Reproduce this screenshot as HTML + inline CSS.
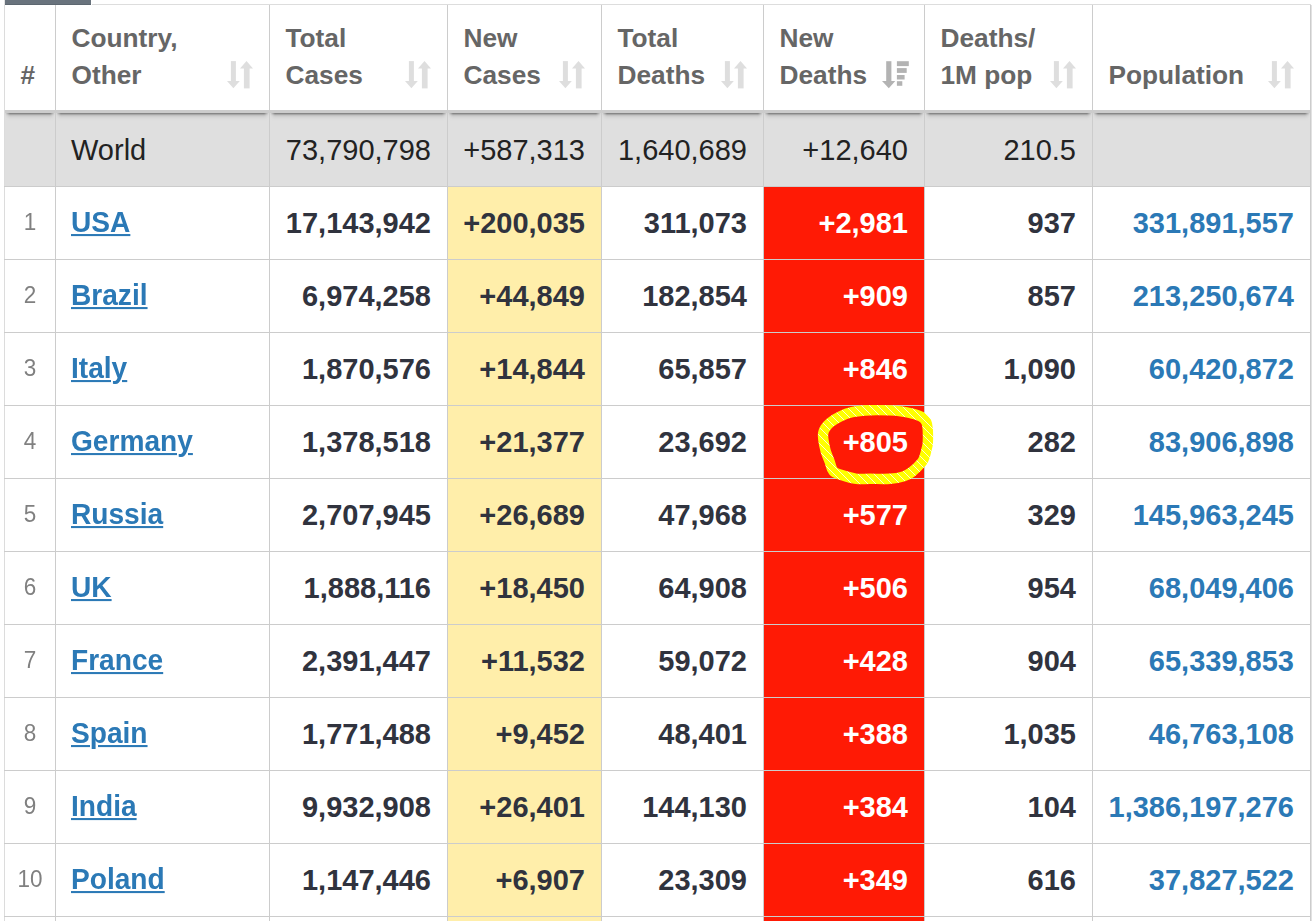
<!DOCTYPE html><html><head><meta charset="utf-8"><title>COVID-19 table</title><style>
*{margin:0;padding:0;box-sizing:border-box}
html,body{width:1315px;height:921px;overflow:hidden;background:#fff}
body{position:relative;font-family:"Liberation Sans",Arial,Helvetica,sans-serif}
.a{position:absolute}
.vl{position:absolute;width:1px;background:#cccccc}
.hl{position:absolute;height:1px;background:#cccccc}
.t{position:absolute;white-space:nowrap;line-height:1}
.r{text-align:right}
.c{text-align:center}
.b{font-weight:bold;color:#30333e;font-size:29px}
.lk{font-size:28.125px}
.w{font-weight:normal;color:#222;font-size:29px}
.rk{color:#808080;font-size:22.5px;transform:scaleY(1.07);transform-origin:50% 85%}
.h{font-weight:bold;color:#666;font-size:26.25px;line-height:37px}
.lnk{color:#2b79b6;text-decoration:underline;text-decoration-thickness:2px;text-underline-offset:2px}
.pop{color:#2b79b6}
.wh{color:#fff}
</style></head><body>
<div class="a" style="left:5px;top:0;width:86px;height:5px;background:#69737d"></div>
<div class="a" style="left:5px;top:4px;width:86px;height:1px;background:#5d6770"></div>
<div class="a" style="left:4px;top:0;width:1px;height:5px;background:#e4e4e4"></div>
<div class="a" style="left:92px;top:4px;width:1219px;height:1px;background:#dddddd"></div>
<div class="a" style="left:4px;top:110px;width:1307px;height:3px;background:#cccccc"></div>
<div class="a" style="left:4px;top:113px;width:1307px;height:73px;background:#dfdfdf"></div>
<div class="a" style="left:447px;top:186px;width:154px;height:735px;background:#ffeeaa"></div>
<div class="a" style="left:763px;top:186px;width:161px;height:735px;background:#ff1a05"></div>
<div class="a" style="left:5px;top:113px;width:50px;height:8px;background:linear-gradient(to bottom,rgba(0,0,0,.40) 0,rgba(0,0,0,.40) 0.8px,rgba(0,0,0,.25) 1.5px,rgba(0,0,0,.16) 2px,rgba(0,0,0,.09) 3px,rgba(0,0,0,.05) 4px,rgba(0,0,0,.027) 5px,rgba(0,0,0,.013) 6px,rgba(0,0,0,0) 8px);-webkit-mask-image:linear-gradient(to right,transparent 0,#000 5px,#000 calc(100% - 5px),transparent 100%)"></div>
<div class="a" style="left:56px;top:113px;width:213px;height:8px;background:linear-gradient(to bottom,rgba(0,0,0,.40) 0,rgba(0,0,0,.40) 0.8px,rgba(0,0,0,.25) 1.5px,rgba(0,0,0,.16) 2px,rgba(0,0,0,.09) 3px,rgba(0,0,0,.05) 4px,rgba(0,0,0,.027) 5px,rgba(0,0,0,.013) 6px,rgba(0,0,0,0) 8px);-webkit-mask-image:linear-gradient(to right,transparent 0,#000 5px,#000 calc(100% - 5px),transparent 100%)"></div>
<div class="a" style="left:270px;top:113px;width:177px;height:8px;background:linear-gradient(to bottom,rgba(0,0,0,.40) 0,rgba(0,0,0,.40) 0.8px,rgba(0,0,0,.25) 1.5px,rgba(0,0,0,.16) 2px,rgba(0,0,0,.09) 3px,rgba(0,0,0,.05) 4px,rgba(0,0,0,.027) 5px,rgba(0,0,0,.013) 6px,rgba(0,0,0,0) 8px);-webkit-mask-image:linear-gradient(to right,transparent 0,#000 5px,#000 calc(100% - 5px),transparent 100%)"></div>
<div class="a" style="left:448px;top:113px;width:153px;height:8px;background:linear-gradient(to bottom,rgba(0,0,0,.40) 0,rgba(0,0,0,.40) 0.8px,rgba(0,0,0,.25) 1.5px,rgba(0,0,0,.16) 2px,rgba(0,0,0,.09) 3px,rgba(0,0,0,.05) 4px,rgba(0,0,0,.027) 5px,rgba(0,0,0,.013) 6px,rgba(0,0,0,0) 8px);-webkit-mask-image:linear-gradient(to right,transparent 0,#000 5px,#000 calc(100% - 5px),transparent 100%)"></div>
<div class="a" style="left:602px;top:113px;width:161px;height:8px;background:linear-gradient(to bottom,rgba(0,0,0,.40) 0,rgba(0,0,0,.40) 0.8px,rgba(0,0,0,.25) 1.5px,rgba(0,0,0,.16) 2px,rgba(0,0,0,.09) 3px,rgba(0,0,0,.05) 4px,rgba(0,0,0,.027) 5px,rgba(0,0,0,.013) 6px,rgba(0,0,0,0) 8px);-webkit-mask-image:linear-gradient(to right,transparent 0,#000 5px,#000 calc(100% - 5px),transparent 100%)"></div>
<div class="a" style="left:764px;top:113px;width:160px;height:8px;background:linear-gradient(to bottom,rgba(0,0,0,.40) 0,rgba(0,0,0,.40) 0.8px,rgba(0,0,0,.25) 1.5px,rgba(0,0,0,.16) 2px,rgba(0,0,0,.09) 3px,rgba(0,0,0,.05) 4px,rgba(0,0,0,.027) 5px,rgba(0,0,0,.013) 6px,rgba(0,0,0,0) 8px);-webkit-mask-image:linear-gradient(to right,transparent 0,#000 5px,#000 calc(100% - 5px),transparent 100%)"></div>
<div class="a" style="left:925px;top:113px;width:167px;height:8px;background:linear-gradient(to bottom,rgba(0,0,0,.40) 0,rgba(0,0,0,.40) 0.8px,rgba(0,0,0,.25) 1.5px,rgba(0,0,0,.16) 2px,rgba(0,0,0,.09) 3px,rgba(0,0,0,.05) 4px,rgba(0,0,0,.027) 5px,rgba(0,0,0,.013) 6px,rgba(0,0,0,0) 8px);-webkit-mask-image:linear-gradient(to right,transparent 0,#000 5px,#000 calc(100% - 5px),transparent 100%)"></div>
<div class="a" style="left:1093px;top:113px;width:217px;height:8px;background:linear-gradient(to bottom,rgba(0,0,0,.40) 0,rgba(0,0,0,.40) 0.8px,rgba(0,0,0,.25) 1.5px,rgba(0,0,0,.16) 2px,rgba(0,0,0,.09) 3px,rgba(0,0,0,.05) 4px,rgba(0,0,0,.027) 5px,rgba(0,0,0,.013) 6px,rgba(0,0,0,0) 8px);-webkit-mask-image:linear-gradient(to right,transparent 0,#000 5px,#000 calc(100% - 5px),transparent 100%)"></div>
<div class="vl" style="left:4px;top:5px;height:916px;background:#dcdcdc"></div>
<div class="vl" style="left:55px;top:5px;height:916px;background:#cccccc"></div>
<div class="vl" style="left:269px;top:5px;height:916px;background:#cccccc"></div>
<div class="vl" style="left:447px;top:5px;height:916px;background:#cccccc"></div>
<div class="vl" style="left:601px;top:5px;height:916px;background:#cccccc"></div>
<div class="vl" style="left:763px;top:5px;height:916px;background:#cccccc"></div>
<div class="vl" style="left:924px;top:5px;height:916px;background:#cccccc"></div>
<div class="vl" style="left:1092px;top:5px;height:916px;background:#cccccc"></div>
<div class="vl" style="left:1310px;top:5px;height:916px;background:#cccccc"></div>
<div class="vl" style="left:1311px;top:5px;height:916px;background:#e2e2e2"></div>
<div class="hl" style="left:4px;top:186px;width:1307px"></div>
<div class="hl" style="left:4px;top:259px;width:1307px"></div>
<div class="hl" style="left:4px;top:332px;width:1307px"></div>
<div class="hl" style="left:4px;top:405px;width:1307px"></div>
<div class="hl" style="left:4px;top:478px;width:1307px"></div>
<div class="hl" style="left:4px;top:551px;width:1307px"></div>
<div class="hl" style="left:4px;top:624px;width:1307px"></div>
<div class="hl" style="left:4px;top:697px;width:1307px"></div>
<div class="hl" style="left:4px;top:770px;width:1307px"></div>
<div class="hl" style="left:4px;top:843px;width:1307px"></div>
<div class="hl" style="left:4px;top:916px;width:1307px"></div>
<div class="t h" style="left:20.5px;top:57.00px">#</div>
<div class="t h" style="left:71.5px;top:20.00px">Country,</div>
<div class="t h" style="left:71.5px;top:57.00px">Other</div>
<div class="t h" style="left:285.5px;top:20.00px">Total</div>
<div class="t h" style="left:285.5px;top:57.00px">Cases</div>
<div class="t h" style="left:463.5px;top:20.00px">New</div>
<div class="t h" style="left:463.5px;top:57.00px">Cases</div>
<div class="t h" style="left:617.5px;top:20.00px">Total</div>
<div class="t h" style="left:617.5px;top:57.00px">Deaths</div>
<div class="t h" style="left:779.5px;top:20.00px">New</div>
<div class="t h" style="left:779.5px;top:57.00px">Deaths</div>
<div class="t h" style="left:940.5px;top:20.00px">Deaths/</div>
<div class="t h" style="left:940.5px;top:57.00px">1M pop</div>
<div class="t h" style="left:1108.5px;top:57.00px">Population</div>
<svg class="a" style="left:227.4px;top:61px" width="28" height="28" viewBox="0 0 28 28"><g fill="#dedede"><rect x="3.9" y="0.1" width="5" height="20.5"/><polygon points="0,20.1 12.8,20.1 6.4,27.2"/><polygon points="19.5,0 26,7.4 13,7.4"/><rect x="16.9" y="7" width="5.7" height="20.4"/></g></svg>
<svg class="a" style="left:405.4px;top:61px" width="28" height="28" viewBox="0 0 28 28"><g fill="#dedede"><rect x="3.9" y="0.1" width="5" height="20.5"/><polygon points="0,20.1 12.8,20.1 6.4,27.2"/><polygon points="19.5,0 26,7.4 13,7.4"/><rect x="16.9" y="7" width="5.7" height="20.4"/></g></svg>
<svg class="a" style="left:559.4px;top:61px" width="28" height="28" viewBox="0 0 28 28"><g fill="#dedede"><rect x="3.9" y="0.1" width="5" height="20.5"/><polygon points="0,20.1 12.8,20.1 6.4,27.2"/><polygon points="19.5,0 26,7.4 13,7.4"/><rect x="16.9" y="7" width="5.7" height="20.4"/></g></svg>
<svg class="a" style="left:721.4px;top:61px" width="28" height="28" viewBox="0 0 28 28"><g fill="#dedede"><rect x="3.9" y="0.1" width="5" height="20.5"/><polygon points="0,20.1 12.8,20.1 6.4,27.2"/><polygon points="19.5,0 26,7.4 13,7.4"/><rect x="16.9" y="7" width="5.7" height="20.4"/></g></svg>
<svg class="a" style="left:882.4px;top:61px" width="28" height="28" viewBox="0 0 28 28"><g fill="#b3b3b3"><rect x="4.2" y="0.2" width="5.2" height="20.5"/><polygon points="0,20 13.3,20 6.8,27.2"/><rect x="14.9" y="0.2" width="11.9" height="4.9"/><rect x="14.9" y="7.1" width="9.8" height="4.8"/><rect x="14.9" y="14" width="7.7" height="4.5"/><rect x="14.9" y="20.2" width="5.4" height="4.6"/></g></svg>
<svg class="a" style="left:1050.4px;top:61px" width="28" height="28" viewBox="0 0 28 28"><g fill="#dedede"><rect x="3.9" y="0.1" width="5" height="20.5"/><polygon points="0,20.1 12.8,20.1 6.4,27.2"/><polygon points="19.5,0 26,7.4 13,7.4"/><rect x="16.9" y="7" width="5.7" height="20.4"/></g></svg>
<svg class="a" style="left:1268.4px;top:61px" width="28" height="28" viewBox="0 0 28 28"><g fill="#dedede"><rect x="3.9" y="0.1" width="5" height="20.5"/><polygon points="0,20.1 12.8,20.1 6.4,27.2"/><polygon points="19.5,0 26,7.4 13,7.4"/><rect x="16.9" y="7" width="5.7" height="20.4"/></g></svg>
<div class="t w" style="left:71px;top:136.45px;">World</div>
<div class="t r w" style="right:884px;top:136.45px;">73,790,798</div>
<div class="t r w" style="right:730px;top:136.45px;">+587,313</div>
<div class="t r w" style="right:568px;top:136.45px;">1,640,689</div>
<div class="t r w" style="right:407px;top:136.45px;">+12,640</div>
<div class="t r w" style="right:239px;top:136.45px;">210.5</div>
<div class="t c rk" style="left:5px;width:50px;top:211.95px">1</div>
<div class="t b lk" style="left:71px;top:209.19px;transform:scaleY(1.03);transform-origin:50% 23.81px;"><span class="lnk">USA</span></div>
<div class="t r b" style="right:884px;top:209.45px;">17,143,942</div>
<div class="t r b" style="right:730px;top:209.45px;">+200,035</div>
<div class="t r b" style="right:568px;top:209.45px;">311,073</div>
<div class="t r b wh" style="right:407px;top:209.45px;">+2,981</div>
<div class="t r b" style="right:239px;top:209.45px;">937</div>
<div class="t r b pop" style="right:21px;top:209.45px;">331,891,557</div>
<div class="t c rk" style="left:5px;width:50px;top:284.95px">2</div>
<div class="t b lk" style="left:71px;top:282.19px;transform:scaleY(1.03);transform-origin:50% 23.81px;"><span class="lnk">Brazil</span></div>
<div class="t r b" style="right:884px;top:282.45px;">6,974,258</div>
<div class="t r b" style="right:730px;top:282.45px;">+44,849</div>
<div class="t r b" style="right:568px;top:282.45px;">182,854</div>
<div class="t r b wh" style="right:407px;top:282.45px;">+909</div>
<div class="t r b" style="right:239px;top:282.45px;">857</div>
<div class="t r b pop" style="right:21px;top:282.45px;">213,250,674</div>
<div class="t c rk" style="left:5px;width:50px;top:357.95px">3</div>
<div class="t b lk" style="left:71px;top:355.19px;transform:scaleY(1.03);transform-origin:50% 23.81px;"><span class="lnk">Italy</span></div>
<div class="t r b" style="right:884px;top:355.45px;">1,870,576</div>
<div class="t r b" style="right:730px;top:355.45px;">+14,844</div>
<div class="t r b" style="right:568px;top:355.45px;">65,857</div>
<div class="t r b wh" style="right:407px;top:355.45px;">+846</div>
<div class="t r b" style="right:239px;top:355.45px;">1,090</div>
<div class="t r b pop" style="right:21px;top:355.45px;">60,420,872</div>
<div class="t c rk" style="left:5px;width:50px;top:430.95px">4</div>
<div class="t b lk" style="left:71px;top:428.19px;transform:scaleY(1.03);transform-origin:50% 23.81px;"><span class="lnk">Germany</span></div>
<div class="t r b" style="right:884px;top:428.45px;">1,378,518</div>
<div class="t r b" style="right:730px;top:428.45px;">+21,377</div>
<div class="t r b" style="right:568px;top:428.45px;">23,692</div>
<div class="t r b wh" style="right:407px;top:428.45px;">+805</div>
<div class="t r b" style="right:239px;top:428.45px;">282</div>
<div class="t r b pop" style="right:21px;top:428.45px;">83,906,898</div>
<div class="t c rk" style="left:5px;width:50px;top:503.95px">5</div>
<div class="t b lk" style="left:71px;top:501.19px;transform:scaleY(1.03);transform-origin:50% 23.81px;"><span class="lnk">Russia</span></div>
<div class="t r b" style="right:884px;top:501.45px;">2,707,945</div>
<div class="t r b" style="right:730px;top:501.45px;">+26,689</div>
<div class="t r b" style="right:568px;top:501.45px;">47,968</div>
<div class="t r b wh" style="right:407px;top:501.45px;">+577</div>
<div class="t r b" style="right:239px;top:501.45px;">329</div>
<div class="t r b pop" style="right:21px;top:501.45px;">145,963,245</div>
<div class="t c rk" style="left:5px;width:50px;top:576.95px">6</div>
<div class="t b lk" style="left:71px;top:574.19px;transform:scaleY(1.03);transform-origin:50% 23.81px;"><span class="lnk">UK</span></div>
<div class="t r b" style="right:884px;top:574.45px;">1,888,116</div>
<div class="t r b" style="right:730px;top:574.45px;">+18,450</div>
<div class="t r b" style="right:568px;top:574.45px;">64,908</div>
<div class="t r b wh" style="right:407px;top:574.45px;">+506</div>
<div class="t r b" style="right:239px;top:574.45px;">954</div>
<div class="t r b pop" style="right:21px;top:574.45px;">68,049,406</div>
<div class="t c rk" style="left:5px;width:50px;top:649.95px">7</div>
<div class="t b lk" style="left:71px;top:647.19px;transform:scaleY(1.03);transform-origin:50% 23.81px;"><span class="lnk">France</span></div>
<div class="t r b" style="right:884px;top:647.45px;">2,391,447</div>
<div class="t r b" style="right:730px;top:647.45px;">+11,532</div>
<div class="t r b" style="right:568px;top:647.45px;">59,072</div>
<div class="t r b wh" style="right:407px;top:647.45px;">+428</div>
<div class="t r b" style="right:239px;top:647.45px;">904</div>
<div class="t r b pop" style="right:21px;top:647.45px;">65,339,853</div>
<div class="t c rk" style="left:5px;width:50px;top:722.95px">8</div>
<div class="t b lk" style="left:71px;top:720.19px;transform:scaleY(1.03);transform-origin:50% 23.81px;"><span class="lnk">Spain</span></div>
<div class="t r b" style="right:884px;top:720.45px;">1,771,488</div>
<div class="t r b" style="right:730px;top:720.45px;">+9,452</div>
<div class="t r b" style="right:568px;top:720.45px;">48,401</div>
<div class="t r b wh" style="right:407px;top:720.45px;">+388</div>
<div class="t r b" style="right:239px;top:720.45px;">1,035</div>
<div class="t r b pop" style="right:21px;top:720.45px;">46,763,108</div>
<div class="t c rk" style="left:5px;width:50px;top:795.95px">9</div>
<div class="t b lk" style="left:71px;top:793.19px;transform:scaleY(1.03);transform-origin:50% 23.81px;"><span class="lnk">India</span></div>
<div class="t r b" style="right:884px;top:793.45px;">9,932,908</div>
<div class="t r b" style="right:730px;top:793.45px;">+26,401</div>
<div class="t r b" style="right:568px;top:793.45px;">144,130</div>
<div class="t r b wh" style="right:407px;top:793.45px;">+384</div>
<div class="t r b" style="right:239px;top:793.45px;">104</div>
<div class="t r b pop" style="right:21px;top:793.45px;">1,386,197,276</div>
<div class="t c rk" style="left:5px;width:50px;top:868.95px">10</div>
<div class="t b lk" style="left:71px;top:866.19px;transform:scaleY(1.03);transform-origin:50% 23.81px;"><span class="lnk">Poland</span></div>
<div class="t r b" style="right:884px;top:866.45px;">1,147,446</div>
<div class="t r b" style="right:730px;top:866.45px;">+6,907</div>
<div class="t r b" style="right:568px;top:866.45px;">23,309</div>
<div class="t r b wh" style="right:407px;top:866.45px;">+349</div>
<div class="t r b" style="right:239px;top:866.45px;">616</div>
<div class="t r b pop" style="right:21px;top:866.45px;">37,827,522</div>
<svg class="a" style="left:0;top:0" width="1315" height="921" viewBox="0 0 1315 921"><defs><pattern id="hatch" patternUnits="userSpaceOnUse" width="8" height="8"><rect width="8" height="8" fill="#ffff00"/><path d="M-1,-1 L9,9 M-1,7 L1,9 M7,-1 L9,1" stroke="#ffffff" stroke-width="0.8"/></pattern></defs><path d="M823.4,440.0 C823.0,437.2 822.8,435.5 823.1,433.6 C823.4,431.7 823.9,430.3 825.0,428.5 C826.1,426.7 827.5,424.7 830.0,422.7 C832.5,420.7 836.4,418.1 840.1,416.4 C843.8,414.6 847.0,413.2 852.0,412.2 C857.0,411.2 863.8,410.6 870.0,410.3 C876.2,410.0 883.8,410.2 889.0,410.4 C894.2,410.6 897.3,410.8 901.0,411.3 C904.7,411.8 907.6,412.3 911.0,413.2 C914.4,414.1 918.9,415.2 921.4,416.7 C923.9,418.2 925.2,419.8 926.3,422.0 C927.4,424.2 927.5,426.5 927.8,430.0 C928.0,433.5 928.0,439.7 927.8,443.0 C927.6,446.3 926.9,447.5 926.4,449.8 C925.9,452.1 925.3,454.7 924.5,456.8 C923.7,458.9 923.7,460.0 921.6,462.5 C919.5,465.0 914.8,469.7 911.8,472.0 C908.8,474.3 907.2,475.3 903.6,476.4 C900.0,477.5 895.6,478.4 890.0,478.8 C884.4,479.2 875.6,478.8 870.0,478.8 C864.4,478.8 861.2,479.4 856.5,478.8 C851.8,478.2 845.5,476.3 841.6,475.0 C837.7,473.7 835.2,473.2 833.2,471.0 C831.2,468.8 830.9,464.9 829.6,461.5 C828.3,458.1 826.5,453.9 825.5,450.3 C824.5,446.7 823.8,442.8 823.4,440.0Z" fill="none" stroke="url(#hatch)" stroke-width="10.4"/></svg>
</body></html>
